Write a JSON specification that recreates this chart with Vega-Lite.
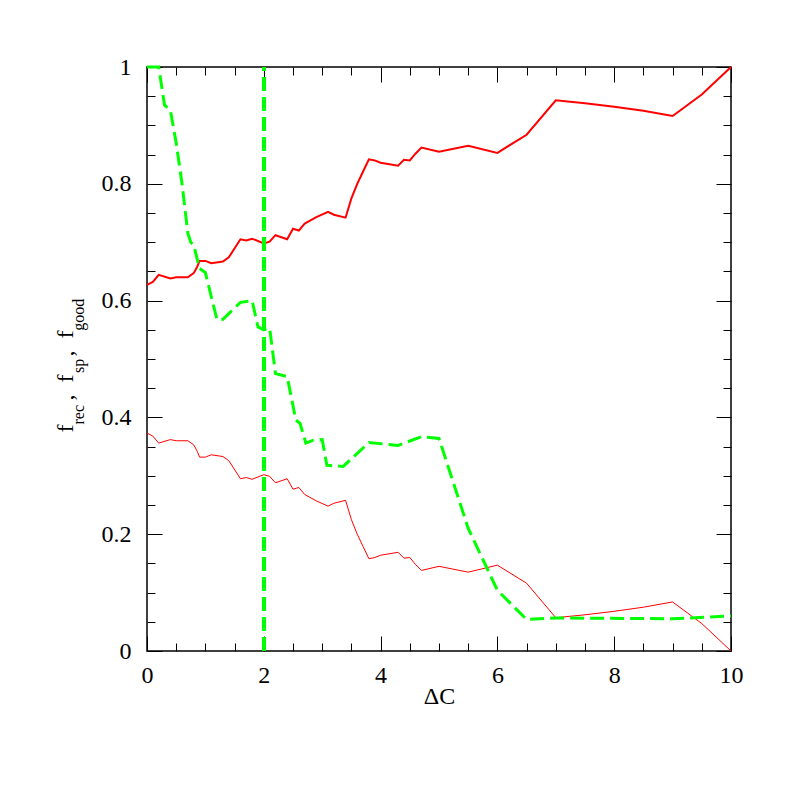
{
  "$schema": "https://vega.github.io/schema/vega-lite/v6.json",
  "width": 584,
  "height": 584,
  "autosize": "none",
  "padding": {"left": 147, "top": 67, "right": 66, "bottom": 146},
  "background": "white",
  "config": {
    "view": {"stroke": "black", "strokeWidth": 1.5},
    "axis": {
      "domain": false,
      "grid": false,
      "tickColor": "black",
      "tickWidth": 1,
      "labelFont": "Liberation Serif",
      "labelFontSize": 24,
      "labelColor": "black",
      "labelFlush": false,
      "labelOverlap": false,
      "titleFont": "Liberation Serif",
      "titleColor": "black",
      "titleFontWeight": "normal"
    }
  },
  "data": {
    "values": [
      {"s": "a", "x": 0, "y": 0.627}, {"s": "a", "x": 0.1, "y": 0.632}, {"s": "a", "x": 0.2, "y": 0.644}, {"s": "a", "x": 0.4, "y": 0.638},
      {"s": "a", "x": 0.5, "y": 0.64}, {"s": "a", "x": 0.7, "y": 0.64}, {"s": "a", "x": 0.8, "y": 0.647}, {"s": "a", "x": 0.86, "y": 0.658},
      {"s": "a", "x": 0.9, "y": 0.668}, {"s": "a", "x": 1.0, "y": 0.668}, {"s": "a", "x": 1.1, "y": 0.664}, {"s": "a", "x": 1.3, "y": 0.667},
      {"s": "a", "x": 1.4, "y": 0.674}, {"s": "a", "x": 1.6, "y": 0.705}, {"s": "a", "x": 1.7, "y": 0.703}, {"s": "a", "x": 1.8, "y": 0.706},
      {"s": "a", "x": 2.0, "y": 0.698}, {"s": "a", "x": 2.1, "y": 0.701}, {"s": "a", "x": 2.2, "y": 0.712}, {"s": "a", "x": 2.4, "y": 0.705},
      {"s": "a", "x": 2.5, "y": 0.723}, {"s": "a", "x": 2.6, "y": 0.72}, {"s": "a", "x": 2.7, "y": 0.732}, {"s": "a", "x": 2.9, "y": 0.743},
      {"s": "a", "x": 3.1, "y": 0.752}, {"s": "a", "x": 3.2, "y": 0.747}, {"s": "a", "x": 3.4, "y": 0.742}, {"s": "a", "x": 3.5, "y": 0.775},
      {"s": "a", "x": 3.6, "y": 0.8}, {"s": "a", "x": 3.7, "y": 0.821}, {"s": "a", "x": 3.8, "y": 0.842}, {"s": "a", "x": 3.9, "y": 0.84},
      {"s": "a", "x": 4.0, "y": 0.836}, {"s": "a", "x": 4.3, "y": 0.831}, {"s": "a", "x": 4.4, "y": 0.841}, {"s": "a", "x": 4.5, "y": 0.84},
      {"s": "a", "x": 4.6, "y": 0.852}, {"s": "a", "x": 4.7, "y": 0.862}, {"s": "a", "x": 5.0, "y": 0.855}, {"s": "a", "x": 5.5, "y": 0.865},
      {"s": "a", "x": 6.0, "y": 0.853}, {"s": "a", "x": 6.5, "y": 0.884}, {"s": "a", "x": 7.0, "y": 0.943}, {"s": "a", "x": 7.5, "y": 0.938},
      {"s": "a", "x": 8.0, "y": 0.932}, {"s": "a", "x": 8.5, "y": 0.925}, {"s": "a", "x": 9.0, "y": 0.916}, {"s": "a", "x": 9.5, "y": 0.953},
      {"s": "a", "x": 10, "y": 1.0},
      {"s": "b", "x": 0, "y": 0.373}, {"s": "b", "x": 0.1, "y": 0.368}, {"s": "b", "x": 0.2, "y": 0.356}, {"s": "b", "x": 0.4, "y": 0.362},
      {"s": "b", "x": 0.5, "y": 0.36}, {"s": "b", "x": 0.7, "y": 0.36}, {"s": "b", "x": 0.8, "y": 0.353}, {"s": "b", "x": 0.86, "y": 0.342},
      {"s": "b", "x": 0.9, "y": 0.332}, {"s": "b", "x": 1.0, "y": 0.332}, {"s": "b", "x": 1.1, "y": 0.336}, {"s": "b", "x": 1.3, "y": 0.333},
      {"s": "b", "x": 1.4, "y": 0.326}, {"s": "b", "x": 1.6, "y": 0.295}, {"s": "b", "x": 1.7, "y": 0.297}, {"s": "b", "x": 1.8, "y": 0.294},
      {"s": "b", "x": 2.0, "y": 0.302}, {"s": "b", "x": 2.1, "y": 0.299}, {"s": "b", "x": 2.2, "y": 0.288}, {"s": "b", "x": 2.4, "y": 0.295},
      {"s": "b", "x": 2.5, "y": 0.277}, {"s": "b", "x": 2.6, "y": 0.28}, {"s": "b", "x": 2.7, "y": 0.268}, {"s": "b", "x": 2.9, "y": 0.257},
      {"s": "b", "x": 3.1, "y": 0.248}, {"s": "b", "x": 3.2, "y": 0.253}, {"s": "b", "x": 3.4, "y": 0.258}, {"s": "b", "x": 3.5, "y": 0.225},
      {"s": "b", "x": 3.6, "y": 0.2}, {"s": "b", "x": 3.7, "y": 0.179}, {"s": "b", "x": 3.8, "y": 0.158}, {"s": "b", "x": 3.9, "y": 0.16},
      {"s": "b", "x": 4.0, "y": 0.164}, {"s": "b", "x": 4.3, "y": 0.169}, {"s": "b", "x": 4.4, "y": 0.159}, {"s": "b", "x": 4.5, "y": 0.16},
      {"s": "b", "x": 4.6, "y": 0.148}, {"s": "b", "x": 4.7, "y": 0.138}, {"s": "b", "x": 5.0, "y": 0.145}, {"s": "b", "x": 5.5, "y": 0.135},
      {"s": "b", "x": 6.0, "y": 0.147}, {"s": "b", "x": 6.5, "y": 0.116}, {"s": "b", "x": 7.0, "y": 0.057}, {"s": "b", "x": 7.5, "y": 0.062},
      {"s": "b", "x": 8.0, "y": 0.068}, {"s": "b", "x": 8.5, "y": 0.075}, {"s": "b", "x": 9.0, "y": 0.084}, {"s": "b", "x": 9.5, "y": 0.047},
      {"s": "b", "x": 10, "y": 0.0},
      {"s": "c", "x": 0, "y": 1.0}, {"s": "c", "x": 0.2, "y": 1.0}, {"s": "c", "x": 0.3, "y": 0.935}, {"s": "c", "x": 0.4, "y": 0.926},
      {"s": "c", "x": 0.5, "y": 0.87}, {"s": "c", "x": 0.6, "y": 0.8}, {"s": "c", "x": 0.7, "y": 0.715}, {"s": "c", "x": 0.75, "y": 0.7},
      {"s": "c", "x": 0.8, "y": 0.695}, {"s": "c", "x": 0.9, "y": 0.655}, {"s": "c", "x": 1.0, "y": 0.648}, {"s": "c", "x": 1.1, "y": 0.607},
      {"s": "c", "x": 1.2, "y": 0.567}, {"s": "c", "x": 1.3, "y": 0.568}, {"s": "c", "x": 1.6, "y": 0.597}, {"s": "c", "x": 1.8, "y": 0.6},
      {"s": "c", "x": 1.9, "y": 0.555}, {"s": "c", "x": 2.0, "y": 0.55}, {"s": "c", "x": 2.1, "y": 0.553}, {"s": "c", "x": 2.2, "y": 0.475},
      {"s": "c", "x": 2.4, "y": 0.47}, {"s": "c", "x": 2.55, "y": 0.395}, {"s": "c", "x": 2.62, "y": 0.39}, {"s": "c", "x": 2.72, "y": 0.356},
      {"s": "c", "x": 2.85, "y": 0.361}, {"s": "c", "x": 3.0, "y": 0.362}, {"s": "c", "x": 3.08, "y": 0.318}, {"s": "c", "x": 3.36, "y": 0.316},
      {"s": "c", "x": 3.8, "y": 0.357}, {"s": "c", "x": 4.3, "y": 0.352}, {"s": "c", "x": 4.7, "y": 0.367}, {"s": "c", "x": 5.0, "y": 0.364},
      {"s": "c", "x": 5.5, "y": 0.21}, {"s": "c", "x": 6.0, "y": 0.104}, {"s": "c", "x": 6.5, "y": 0.054}, {"s": "c", "x": 7.0, "y": 0.0565},
      {"s": "c", "x": 9.0, "y": 0.0553}, {"s": "c", "x": 10, "y": 0.06}
    ]
  },
  "resolve": {"axis": {"x": "independent", "y": "independent"}},
  "layer": [
    {
      "transform": [{"filter": "datum.s === 'a'"}],
      "mark": {"type": "line", "color": "#ff0000", "strokeWidth": 2},
      "encoding": {
        "x": {"field": "x", "type": "quantitative", "scale": {"domain": [0, 10], "nice": false},
          "axis": {"orient": "bottom", "values": [0, 2, 4, 6, 8, 10], "format": "d", "tickSize": -15, "labelPadding": 27,
            "title": "ΔC", "titleFontSize": 24, "titleBaseline": "alphabetic", "titleY": 52}},
        "y": {"field": "y", "type": "quantitative", "scale": {"domain": [0, 1], "nice": false},
          "axis": {"orient": "left", "values": [0, 0.2, 0.4, 0.6, 0.8, 1], "format": "~f", "tickSize": -15, "labelPadding": 31,
            "title": "f\u00a0\u00a0\u00a0\u00a0,\u00a0\u00a0f\u00a0\u00a0\u00a0,\u00a0\u00a0f", "titleFontSize": 24, "titleAngle": 270, "titleAlign": "left", "titleBaseline": "alphabetic",
            "titleX": -75, "titleY": 365}}
      }
    },
    {
      "transform": [{"filter": "datum.s === 'b'"}],
      "mark": {"type": "line", "color": "#ff0000", "strokeWidth": 1},
      "encoding": {
        "x": {"field": "x", "type": "quantitative", "scale": {"domain": [0, 10], "nice": false},
          "axis": {"orient": "bottom", "values": [0.5, 1, 1.5, 2.5, 3, 3.5, 4.5, 5, 5.5, 6.5, 7, 7.5, 8.5, 9, 9.5], "tickSize": -8, "labels": false, "title": null}},
        "y": {"field": "y", "type": "quantitative", "scale": {"domain": [0, 1], "nice": false},
          "axis": {"orient": "left", "values": [0.05, 0.1, 0.15, 0.25, 0.3, 0.35, 0.45, 0.5, 0.55, 0.65, 0.7, 0.75, 0.85, 0.9, 0.95], "tickSize": -8, "labels": false,
            "title": "rec\u00a0\u00a0\u00a0\u00a0\u00a0\u00a0\u00a0\u00a0sp\u00a0\u00a0\u00a0\u00a0\u00a0\u00a0\u00a0good", "titleFontSize": 16, "titleAngle": 270, "titleAlign": "left", "titleBaseline": "alphabetic",
            "titleX": -64, "titleY": 357}}
      }
    },
    {
      "transform": [{"filter": "datum.s === 'c'"}],
      "mark": {"type": "line", "color": "#00ff00", "strokeWidth": 3, "strokeDash": [14, 6]},
      "encoding": {
        "x": {"field": "x", "type": "quantitative", "scale": {"domain": [0, 10], "nice": false},
          "axis": {"orient": "top", "values": [0, 2, 4, 6, 8, 10], "tickSize": -15, "labels": false, "title": null}},
        "y": {"field": "y", "type": "quantitative", "scale": {"domain": [0, 1], "nice": false},
          "axis": {"orient": "right", "values": [0, 0.2, 0.4, 0.6, 0.8, 1], "tickSize": -15, "labels": false, "title": null}}
      }
    },
    {
      "mark": {"type": "rule", "color": "#00ff00", "strokeWidth": 3, "strokeDash": [14, 6]},
      "encoding": {
        "x": {"datum": 2, "type": "quantitative", "scale": {"domain": [0, 10], "nice": false},
          "axis": {"orient": "top", "values": [0.5, 1, 1.5, 2.5, 3, 3.5, 4.5, 5, 5.5, 6.5, 7, 7.5, 8.5, 9, 9.5], "tickSize": -8, "labels": false, "title": null}},
        "y": {"datum": 0, "type": "quantitative", "scale": {"domain": [0, 1], "nice": false},
          "axis": {"orient": "right", "values": [0.05, 0.1, 0.15, 0.25, 0.3, 0.35, 0.45, 0.5, 0.55, 0.65, 0.7, 0.75, 0.85, 0.9, 0.95], "tickSize": -8, "labels": false, "title": null}},
        "y2": {"datum": 1}
      }
    }
  ]
}
